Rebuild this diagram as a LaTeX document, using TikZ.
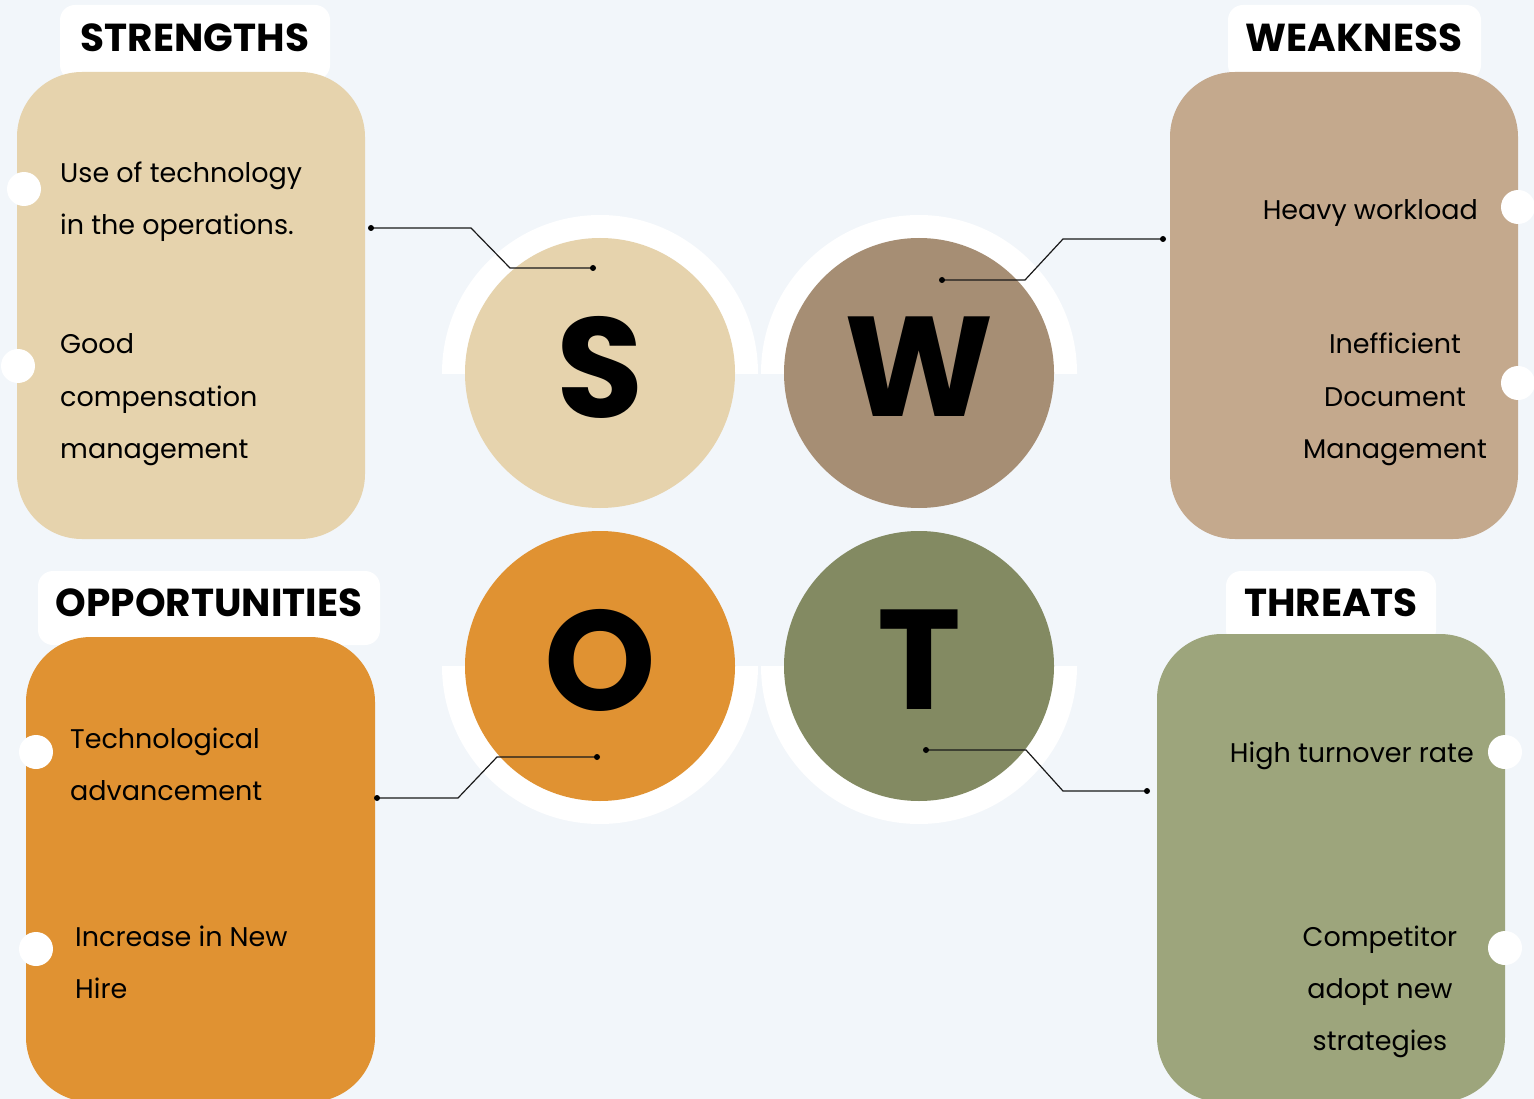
\documentclass[tikz,border=0pt]{standalone}
\usepackage{fontspec}
\setmainfont{Poppins}
\definecolor{bgc}{HTML}{F2F6FA}
\definecolor{cS}{HTML}{E6D3AD}
\definecolor{cWp}{HTML}{C4A98D}
\definecolor{cW}{HTML}{A68E74}
\definecolor{cO}{HTML}{E09232}
\definecolor{cTp}{HTML}{9DA57C}
\definecolor{cT}{HTML}{838A62}
\begin{document}
\begin{tikzpicture}[x=1pt,y=-1pt,
  panel/.style={rounded corners=65pt, inner sep=0pt},
  lblbox/.style={fill=white, rounded corners=15pt},
  lbl/.style={font=\fontsize{39}{47}\selectfont\bfseries, inner sep=0pt, text=black},
  body/.style={font=\fontsize{27}{33}\selectfont, inner sep=0pt, text=black},
  bigl/.style={font=\fontsize{142}{150}\selectfont\bfseries, inner sep=0pt, text=black},
  disc/.style={circle, minimum size=270pt, inner sep=0pt},
  conn/.style={line width=1.2pt, draw=black!90},
  edgedot/.style={fill=white}]
\clip (0,0) rectangle (1534,1099);
\fill[bgc] (0,0) rectangle (1534,1099);

% label boxes
\fill[lblbox] (60,5) rectangle (330,80);
\fill[lblbox] (1228,5) rectangle (1481,80);
\fill[lblbox] (38,571) rectangle (380,645);
\fill[lblbox] (1226,571) rectangle (1436,645);
\node[lbl] (lS) at (195,38) {STRENGTHS};
\node[lbl] (lW) at (1354,38) {WEAKNESS};
\node[lbl] (lO) at (209,603) {OPPORTUNITIES};
\node[lbl] (lT) at (1331,603) {THREATS};

% panels
\fill[cS, panel] (17,72) rectangle (365,539);
\fill[cWp, panel] (1170,72) rectangle (1518,539);
\fill[cO, panel] (26,637) rectangle (375,1102);
\fill[cTp, panel] (1157,634) rectangle (1505,1102);

% white edge dots
\fill[edgedot] (24,189) circle (17);
\fill[edgedot] (18,366) circle (17);
\fill[edgedot] (1518,207) circle (17);
\fill[edgedot] (1518,383) circle (17);
\fill[edgedot] (36,752) circle (17);
\fill[edgedot] (36,949) circle (17);
\fill[edgedot] (1505,752) circle (17);
\fill[edgedot] (1505,948) circle (17);

% half rings
\begin{scope}
\clip (400,150) rectangle (1120,373);
\fill[white] (600,373) circle (158);
\fill[white] (919,373) circle (158);
\end{scope}
\begin{scope}
\clip (400,666) rectangle (1120,900);
\fill[white] (600,666) circle (158);
\fill[white] (919,666) circle (158);
\end{scope}

% discs
\node[disc, fill=cS] (S) at (600,373) {};
\node[disc, fill=cW] (W) at (919,373) {};
\node[disc, fill=cO] (O) at (600,666) {};
\node[disc, fill=cT] (T) at (919,666) {};
\node[bigl] (Sl) at (600,367) {S};
\node[bigl] (Wl) at (919,367) {W};
\node[bigl] (Ol) at (600,660) {O};
\node[bigl] (Tl) at (919,660) {T};

% connectors
\coordinate (s1) at (371,228); \coordinate (s2) at (471,228);
\coordinate (s3) at (510,268); \coordinate (s4) at (593,268);
\draw[conn] (s1) -- (s2) -- (s3) -- (s4);
\fill (s1) circle (3); \fill (s4) circle (3);
\coordinate (w1) at (1163,239); \coordinate (w2) at (1063,239);
\coordinate (w3) at (1025,280); \coordinate (w4) at (942,280);
\draw[conn] (w1) -- (w2) -- (w3) -- (w4);
\fill (w1) circle (3); \fill (w4) circle (3);
\coordinate (o1) at (377,798); \coordinate (o2) at (458,798);
\coordinate (o3) at (497,757); \coordinate (o4) at (597,757);
\draw[conn] (o1) -- (o2) -- (o3) -- (o4);
\fill (o1) circle (3); \fill (o4) circle (3);
\coordinate (t1) at (926,750); \coordinate (t2) at (1026,750);
\coordinate (t3) at (1063,791); \coordinate (t4) at (1147,791);
\draw[conn] (t1) -- (t2) -- (t3) -- (t4);
\fill (t1) circle (3); \fill (t4) circle (3);

% texts
\node[body, anchor=base west] (s1a) at (60,183) {Use of technology};
\node[body, anchor=base west] (s1b) at (60,235) {in the operations.};
\node[body, anchor=base west] (s2a) at (60,353) {Good};
\node[body, anchor=base west] (s2b) at (60,406) {compensation};
\node[body, anchor=base west] (s2c) at (60,458) {management};

\node[body, anchor=base east] (w1a) at (1478,220) {Heavy workload};
\node[body, anchor=base] (w2a) at (1395,353) {Inefficient};
\node[body, anchor=base] (w2b) at (1395,406) {Document};
\node[body, anchor=base] (w2c) at (1395,458) {Management};

\node[body, anchor=base west] (o1a) at (70,748) {Technological};
\node[body, anchor=base west] (o1b) at (70,800) {advancement};
\node[body, anchor=base west] (o2a) at (75,946) {Increase in New};
\node[body, anchor=base west] (o2b) at (75,998) {Hire};

\node[body, anchor=base east] (t1a) at (1474,762) {High turnover rate};
\node[body, anchor=base] (t2a) at (1380,946) {Competitor};
\node[body, anchor=base] (t2b) at (1380,998) {adopt new};
\node[body, anchor=base] (t2c) at (1380,1050) {strategies};
\end{tikzpicture}
\end{document}
